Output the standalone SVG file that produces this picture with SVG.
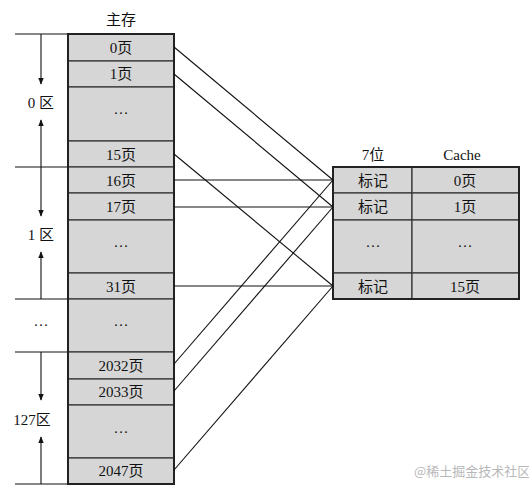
<svg xmlns="http://www.w3.org/2000/svg" width="529" height="491" viewBox="0 0 529 491">
<defs>
<style>
.t{font-family:"Liberation Serif","Noto Sans CJK SC",serif;font-size:15px;fill:#111;text-anchor:middle;dominant-baseline:central}
.cell{fill:#d6d6d6;stroke:#333;stroke-width:1.2}
.box{fill:none;stroke:#222;stroke-width:2}
.ln{stroke:#111;stroke-width:1.1;fill:none}
.wm{font-family:"Noto Sans CJK SC","Noto Sans",sans-serif;font-size:13px;fill:#b8b8b8}
</style>
<marker id="ah" viewBox="0 0 10 10" refX="9" refY="5" markerWidth="7" markerHeight="9" orient="auto" markerUnits="userSpaceOnUse">
<path d="M0,1 L10,5 L0,9 Z" fill="#111"/>
</marker>
</defs>
<rect width="529" height="491" fill="#fff"/>

<g id="main-memory">
<text class="t" x="121" y="20">主存</text>
<rect class="cell" x="68" y="34" width="106" height="27"/>
<rect class="cell" x="68" y="61" width="106" height="26"/>
<rect class="cell" x="68" y="87" width="106" height="54"/>
<rect class="cell" x="68" y="141" width="106" height="26"/>
<rect class="cell" x="68" y="167" width="106" height="26"/>
<rect class="cell" x="68" y="193" width="106" height="27"/>
<rect class="cell" x="68" y="220" width="106" height="53"/>
<rect class="cell" x="68" y="273" width="106" height="26"/>
<rect class="cell" x="68" y="299" width="106" height="53"/>
<rect class="cell" x="68" y="352" width="106" height="27"/>
<rect class="cell" x="68" y="379" width="106" height="26"/>
<rect class="cell" x="68" y="405" width="106" height="53"/>
<rect class="cell" x="68" y="458" width="106" height="26"/>
<rect class="box" x="68" y="34" width="106" height="450"/>
<text class="t" x="121" y="48">0页</text>
<text class="t" x="121" y="74">1页</text>
<text class="t" x="121" y="113">···</text>
<text class="t" x="121" y="155">15页</text>
<text class="t" x="121" y="181">16页</text>
<text class="t" x="121" y="207">17页</text>
<text class="t" x="121" y="246">···</text>
<text class="t" x="121" y="287">31页</text>
<text class="t" x="121" y="325">···</text>
<text class="t" x="121" y="366">2032页</text>
<text class="t" x="121" y="392">2033页</text>
<text class="t" x="121" y="432">···</text>
<text class="t" x="121" y="471">2047页</text>
</g>

<g id="zones">
<g class="ln">
<line x1="15" y1="34" x2="68" y2="34"/>
<line x1="15" y1="167" x2="68" y2="167"/>
<line x1="15" y1="299" x2="68" y2="299"/>
<line x1="15" y1="352" x2="68" y2="352"/>
<line x1="15" y1="484" x2="68" y2="484"/>
<line x1="41" y1="34" x2="41" y2="84" marker-end="url(#ah)"/>
<line x1="41" y1="167" x2="41" y2="120" marker-end="url(#ah)"/>
<line x1="41" y1="167" x2="41" y2="216" marker-end="url(#ah)"/>
<line x1="41" y1="299" x2="41" y2="252" marker-end="url(#ah)"/>
<line x1="41" y1="352" x2="41" y2="400" marker-end="url(#ah)"/>
<line x1="41" y1="484" x2="41" y2="437" marker-end="url(#ah)"/>
</g>
<text class="t" x="41" y="103">0 区</text>
<text class="t" x="41" y="235">1 区</text>
<text class="t" x="41" y="325">···</text>
<text class="t" x="32" y="420">127区</text>
</g>

<g id="cache">
<text class="t" x="373" y="155">7位</text>
<text class="t" x="462" y="155">Cache</text>
<rect class="cell" x="333" y="167" width="79" height="26"/>
<rect class="cell" x="333" y="193" width="79" height="27"/>
<rect class="cell" x="333" y="220" width="79" height="53"/>
<rect class="cell" x="333" y="273" width="79" height="26"/>
<rect class="cell" x="412" y="167" width="107" height="26"/>
<rect class="cell" x="412" y="193" width="107" height="27"/>
<rect class="cell" x="412" y="220" width="107" height="53"/>
<rect class="cell" x="412" y="273" width="107" height="26"/>
<rect class="box" x="333" y="167" width="186" height="132"/>
<text class="t" x="373" y="181">标记</text>
<text class="t" x="373" y="207">标记</text>
<text class="t" x="373" y="246">···</text>
<text class="t" x="373" y="287">标记</text>
<text class="t" x="465" y="181">0页</text>
<text class="t" x="465" y="207">1页</text>
<text class="t" x="465" y="246">···</text>
<text class="t" x="465" y="287">15页</text>
</g>

<g id="connectors" class="ln">
<line x1="174" y1="47" x2="333" y2="180"/>
<line x1="174" y1="74" x2="333" y2="207"/>
<line x1="174" y1="154" x2="333" y2="286"/>
<line x1="174" y1="180" x2="333" y2="180"/>
<line x1="174" y1="207" x2="333" y2="207"/>
<line x1="174" y1="286" x2="333" y2="286"/>
<line x1="174" y1="364" x2="333" y2="180"/>
<line x1="174" y1="391" x2="333" y2="207"/>
<line x1="174" y1="470" x2="333" y2="286"/>
</g>

<text class="wm" x="414" y="476">@稀土掘金技术社区</text>
</svg>
